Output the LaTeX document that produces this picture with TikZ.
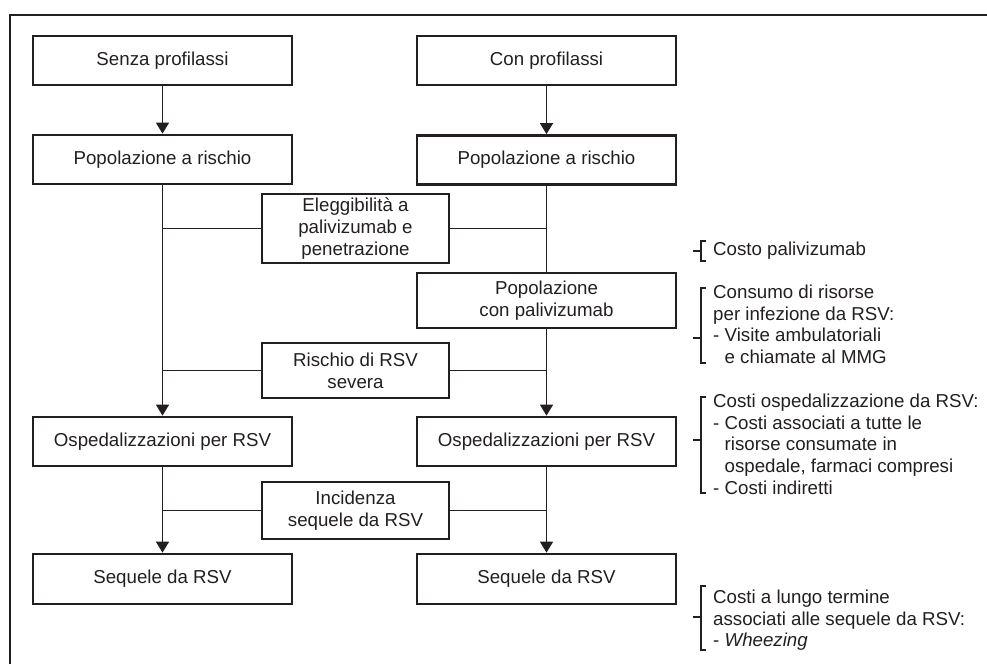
\documentclass[tikz,border=0pt]{standalone}
\usepackage{fontspec}
\setmainfont{Liberation Sans}
\usetikzlibrary{arrows.meta}
\definecolor{ink}{RGB}{35,31,32}
\begin{document}
\begin{tikzpicture}[x=1pt,y=-1pt,
  font=\fontsize{18.7}{22}\selectfont,
  every node/.style={text=ink},
  box/.style={draw=ink, line width=2.7pt, inner sep=0pt, align=center},
  sidebox/.style={box, minimum width=259pt},
  midbox/.style={box, minimum width=187pt},
  conn/.style={draw=ink, line width=1.3pt},
  arr/.style={conn, -{Triangle[length=11pt,width=13pt]}},
  brk/.style={draw=ink, line width=1.3pt},
  note/.style={anchor=north west, inner sep=0pt, align=left, font=\fontsize{18.7}{21.8}\selectfont},
  frame/.style={draw=ink, line width=2.6pt}
]
\useasboundingbox (0,0) rectangle (987,664);
% outer frame (top and left edges)
\draw[frame] (10,664) -- (10,15) -- (987,15);

% left column
\node[sidebox, minimum height=49pt] (senza) at (162.5,60.5) {Senza profilassi};
\node[sidebox, minimum height=49pt] (popL) at (162.5,159.5) {Popolazione a rischio};
\node[sidebox, minimum height=49pt] (ospL) at (162.5,441.5) {Ospedalizzazioni per RSV};
\node[sidebox, minimum height=50pt] (seqL) at (162.5,579) {Sequele da RSV};

% right column
\node[sidebox, minimum height=49pt] (con) at (546.5,60.5) {Con profilassi};
\node[sidebox, minimum height=49pt] (popR) at (546.5,160) {Popolazione a rischio};
\node[sidebox, minimum height=55pt] (popPal) at (546.5,300.5) {Popolazione\\con palivizumab};
\node[sidebox, minimum height=49pt] (ospR) at (546.5,441.5) {Ospedalizzazioni per RSV};
\node[sidebox, minimum height=50pt] (seqR) at (546.5,579) {Sequele da RSV};

% middle boxes
\node[midbox, minimum height=69pt] (eleg) at (355.5,228.5) {Eleggibilità a\\palivizumab e\\penetrazione};
\node[midbox, minimum height=55pt] (risch) at (355.5,370.5) {Rischio di RSV\\severa};
\node[midbox, minimum height=57pt] (incid) at (355.5,510.5) {Incidenza\\sequele da RSV};

% connectors left
\draw[arr] (senza.south) -- (popL.north);
\draw[arr] (popL.south) -- (ospL.north);
\draw[arr] (ospL.south) -- (seqL.north);
\draw[conn] (eleg.west) -- (eleg.west -| popL.south);
\draw[conn] (risch.west) -- (risch.west -| popL.south);
\draw[conn] (incid.west) -- (incid.west -| ospL.south);

% connectors right
\draw[arr] (con.south) -- (popR.north);
\draw[conn] (popR.south) -- (popPal.north);
\draw[arr] (popPal.south) -- (ospR.north);
\draw[arr] (ospR.south) -- (seqR.north);
\draw[conn] (eleg.east) -- (eleg.east -| popR.south);
\draw[conn] (risch.east) -- (risch.east -| popPal.south);
\draw[conn] (incid.east) -- (incid.east -| ospR.south);

% brackets and notes
\draw[brk] (706,241) -- (701,241) -- (701,261) -- (706,261);
\draw[brk] (693,251) -- (701,251);
\node[note] (n1) at (713,241.5) {Costo palivizumab};

\draw[brk] (706,288) -- (701,288) -- (701,363) -- (706,363);
\draw[brk] (693,338) -- (701,338);
\node[note] (n2) at (713,284.5) {Consumo di risorse\\per infezione da RSV:\\- Visite ambulatoriali\\\phantom{- }e chiamate al MMG};

\draw[brk] (706,397) -- (701,397) -- (701,493) -- (706,493);
\draw[brk] (693,440) -- (701,440);
\node[note] (n3) at (713,393.5) {Costi ospedalizzazione da RSV:\\- Costi associati a tutte le\\\phantom{- }risorse consumate in\\\phantom{- }ospedale, farmaci compresi\\- Costi indiretti};

\draw[brk] (706,586) -- (701,586) -- (701,650) -- (706,650);
\draw[brk] (693,617) -- (701,617);
\node[note] (n4) at (713,589.5) {Costi a lungo termine\\associati alle sequele da RSV:\\- \textit{Wheezing}};
\end{tikzpicture}
\end{document}
